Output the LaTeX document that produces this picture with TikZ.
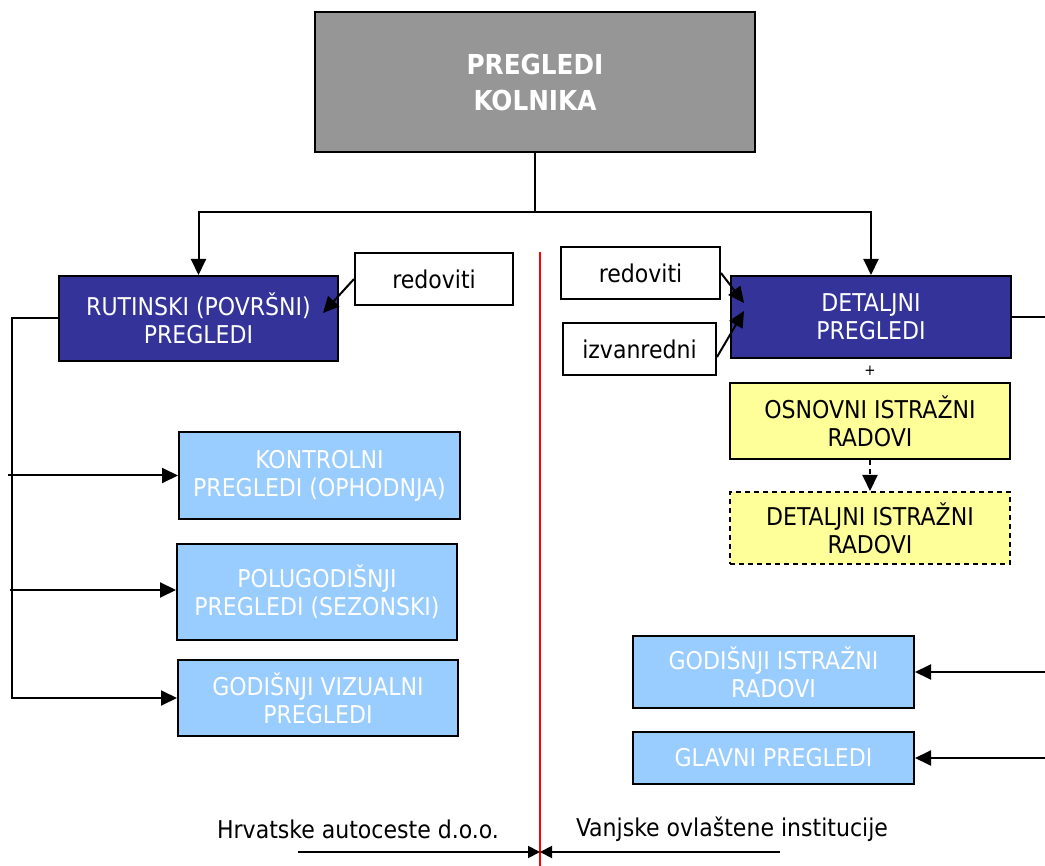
\documentclass[tikz,border=0pt]{standalone}
\usepackage{fontspec}
\setmainfont{DejaVu Sans Condensed}
\usetikzlibrary{arrows.meta}
\definecolor{dblue}{HTML}{333399}
\definecolor{lblue}{HTML}{99CCFF}
\definecolor{yelfill}{HTML}{FFFF99}
\definecolor{grayfill}{HTML}{969696}
\begin{document}
\begin{tikzpicture}[x=1pt,y=-1pt,
 every node/.style={font=\fontsize{24.5}{28}\selectfont},
 bx/.style={draw=black, line width=2pt, align=center, inner sep=0pt},
 dark/.style={bx, fill=dblue, text=white},
 light/.style={bx, fill=lblue, text=white},
 yelbox/.style={bx, fill=yelfill, text=black},
 wbox/.style={bx, fill=white},
 conn/.style={line width=2pt},
 arr/.style={conn, -{Triangle[length=16pt,width=15pt]}},
 arrs/.style={conn, -{Triangle[length=12pt,width=12pt]}},
]
\useasboundingbox (0,0) rectangle (1045,866);
% nodes
\node[bx, fill=grayfill, text=white, minimum width=440pt, minimum height=140pt,
  font=\fontsize{27.5}{36}\selectfont\bfseries] (top) at (535,82) {PREGLEDI\\KOLNIKA};
\node[dark, minimum width=279pt, minimum height=85pt] (rut) at (198.5,318.5) {RUTINSKI (POVRŠNI)\\PREGLEDI};
\node[wbox, minimum width=158pt, minimum height=52pt] (redl) at (434,279) {redoviti};
\node[light, minimum width=281pt, minimum height=87pt] (kon) at (319.5,475.5) {KONTROLNI\\PREGLEDI (OPHODNJA)};
\node[light, minimum width=280pt, minimum height=96pt] (pol) at (317,592) {POLUGODIŠNJI\\PREGLEDI (SEZONSKI)};
\node[light, minimum width=280pt, minimum height=76pt] (gov) at (318,698) {GODIŠNJI VIZUALNI\\PREGLEDI};
\node[wbox, minimum width=159pt, minimum height=52pt] (redr) at (640.5,273) {redoviti};
\node[wbox, minimum width=153pt, minimum height=52pt] (izv) at (639.5,349) {izvanredni};
\node[dark, minimum width=280pt, minimum height=82pt] (det) at (871,317) {DETALJNI\\PREGLEDI};
\node[font=\fontsize{15}{15}\selectfont, inner sep=0pt] (plus) at (870,371) {+};
\node[yelbox, minimum width=280pt, minimum height=76pt] (osn) at (870,421) {OSNOVNI ISTRAŽNI\\RADOVI};
\node[yelbox, dashed, dash pattern=on 5pt off 4pt, minimum width=280pt, minimum height=72pt] (dir) at (870,528) {DETALJNI ISTRAŽNI\\RADOVI};
\node[light, minimum width=281pt, minimum height=72pt] (gir) at (773.5,672) {GODIŠNJI ISTRAŽNI\\RADOVI};
\node[light, minimum width=281pt, minimum height=52pt] (gla) at (773.5,758) {GLAVNI PREGLEDI};
\node (hac) at (358,829) {Hrvatske autoceste d.o.o.};
\node (voi) at (732,829) {Vanjske ovlaštene institucije};
% coordinates
\coordinate (j) at (535,212);
\coordinate (l0) at (12,318.5);
\coordinate (l1) at (8,475.5);
\coordinate (l2) at (10,590);
\coordinate (t1) at (323,313);
\coordinate (t2) at (744,303);
\coordinate (t3) at (744,311);
\coordinate (r0) at (1045,317);
\coordinate (r1) at (1045,672);
\coordinate (r2) at (1045,758);
\coordinate (rt) at (540,252);
\coordinate (rb) at (540,866);
\coordinate (b1) at (298,852);
\coordinate (bm) at (540,852);
\coordinate (b2) at (780,852);
% connectors
\draw[arr] (top.south) -- (j) -| (rut.north);
\draw[arr] (j) -| (det.north);
\draw[arr] (rut.west) -- (l0) |- (gov.west);
\draw[arr] (l1) -- (kon.west);
\draw[arr] (l2) -- (pol.west |- l2);
\draw[arr] (redl.west) -- (t1);
\draw[arr] (redr.east) -- (t2);
\draw[arr] ([yshift=-8pt]izv.east) -- (t3);
\draw[conn] (det.east) -- (r0);
\draw[arr] (r1) -- (gir.east);
\draw[arr] (r2) -- (gla.east);
\draw[arr, dash pattern=on 5pt off 4pt] (osn.south) -- (dir.north);
\draw[red, line width=1.4pt] (rt) -- (rb);
\draw[arrs] (b1) -- (bm);
\draw[arrs] (b2) -- (bm);
\end{tikzpicture}
\end{document}
